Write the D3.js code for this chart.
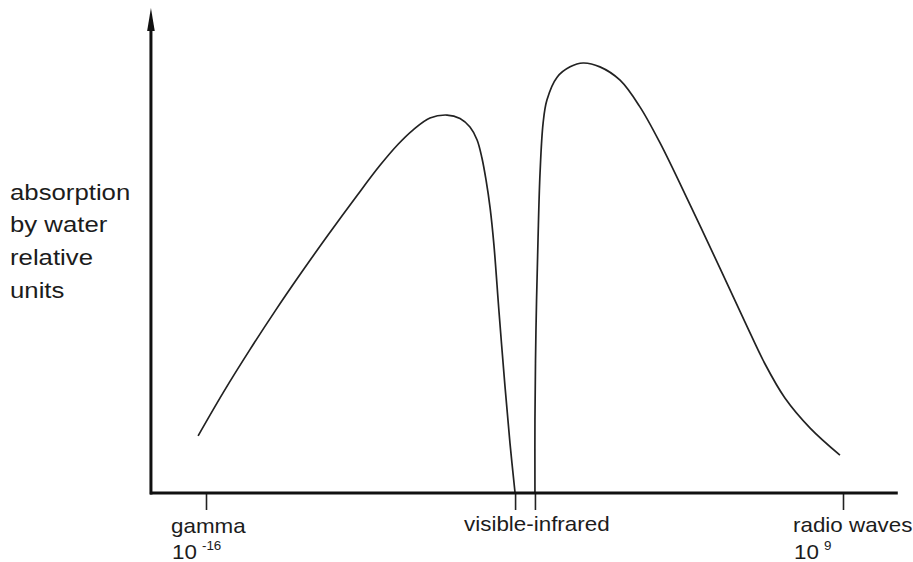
<!DOCTYPE html>
<html>
<head>
<meta charset="utf-8">
<script src="https://cdn.jsdelivr.net/npm/d3@7"></script>
<style>
  html, body { margin: 0; padding: 0; background: #fff; }
  svg { display: block; }
  text { font-family: "Liberation Sans", Arial, Helvetica, sans-serif; fill: #1c1c1c; }
</style>
</head>
<body>
<svg id="chart" width="913" height="562"></svg>
<script>
// x values: exponent position along the spectrum, y values: relative absorption units
const leftBranchX = [-16.31, -15.29, -14.27, -13.29, -12.31, -11.21, -10.07, -9.17, -8.46, -7.88, -7.21, -6.54, -6.03, -5.64, -5.36, -5.17, -5.01, -4.85, -4.70, -4.50, -4.27, -4.07, -3.87];
const leftBranchY = [13.3, 23.7, 33.4, 42.3, 50.8, 60.0, 69.2, 76.2, 81.1, 84.4, 87.2, 87.9, 87.1, 85.1, 82.1, 77.9, 72.8, 66.3, 57.7, 42.1, 25.1, 11.6, 0];
const rightBranchX = [-3.09, -3.09, -3.05, -2.97, -2.89, -2.77, -2.62, -2.22, -1.71, -1.20, -0.54, 0.25, 1.03, 1.82, 3.00, 4.17, 5.15, 5.94, 6.72, 7.71, 8.88];
const rightBranchY = [0, 17.0, 37.9, 58.8, 74.4, 86.0, 91.4, 96.7, 99.1, 100, 99.1, 96.0, 89.8, 81.4, 67.0, 52.3, 39.8, 30.0, 22.1, 15.1, 8.8];

const tickValues = [-16, -3.87, -3.09, 9];
const categoryLabels = ["gamma", "visible-infrared", "radio waves"];
const categoryAt = [-16, -3.87, 9];
const powerBase = ["10", "", "10"];
const powerExp = ["-16", "", "9"];
const yLabelLines = ["absorption", "by water", "relative", "units"];
const xAxisExtent = [-18.2, 11.15];
const yAxisExtent = [0, 112.8];

const svg = d3.select("#chart");
const x = d3.scaleLinear().domain([-16, 9]).range([206, 843]);
const y = d3.scaleLinear().domain([0, 100]).range([493, 63]);
const SX = 1.12; // horizontal text stretch seen in the reference

// curve
const line = d3.line().x(d => x(d[0])).y(d => y(d[1])).curve(d3.curveCatmullRom.alpha(0.5));
const left = leftBranchX.map((v, i) => [v, leftBranchY[i]]);
const right = rightBranchX.map((v, i) => [v, rightBranchY[i]]);
[left, right].forEach(data => {
  svg.append("path").datum(data).attr("d", line)
    .attr("fill", "none").attr("stroke", "#222").attr("stroke-width", 1.7)
    .attr("stroke-linejoin", "round");
});

// ticks via d3 axis
const xAxis = d3.axisBottom(x).tickValues(tickValues).tickSize(17).tickFormat("");
const gx = svg.append("g").attr("transform", `translate(0,${y(0)})`).call(xAxis);
gx.select(".domain").remove();
gx.selectAll(".tick line").attr("stroke", "#222").attr("stroke-width", 1.6);

// axis lines
svg.append("line")
  .attr("x1", x(xAxisExtent[0])).attr("x2", x(xAxisExtent[1]))
  .attr("y1", y(0)).attr("y2", y(0))
  .attr("stroke", "#111").attr("stroke-width", 3);
const yTop = y(yAxisExtent[1]);
svg.append("line")
  .attr("x1", x(xAxisExtent[0]) + 1).attr("x2", x(xAxisExtent[0]) + 1)
  .attr("y1", y(0) + 1.5).attr("y2", yTop + 14)
  .attr("stroke", "#111").attr("stroke-width", 3);
const ax = x(xAxisExtent[0]) + 1;
svg.append("path")
  .attr("d", `M${ax},${yTop} L${ax + 3.8},${yTop + 23} L${ax - 3.8},${yTop + 23} Z`)
  .attr("fill", "#111");

function addText(str, px, py, size) {
  return svg.append("text")
    .attr("transform", `translate(${px},${py}) scale(${SX},1)`)
    .style("font-size", size + "px")
    .text(str);
}

// y label
const yBase = [200, 232, 265, 298];
yLabelLines.forEach((t, i) => addText(t, 10, yBase[i], 23));

// category labels
const labelX = [x(categoryAt[0]) - 35, x(categoryAt[1]) - 51, x(categoryAt[2]) - 50];
const labelY = [533, 531, 532];
categoryLabels.forEach((t, i) => addText(t, labelX[i], labelY[i], 20));
powerBase.forEach((t, i) => {
  if (!t) return;
  const base = addText(t, labelX[i] + 1, 559, 20);
  const w = base.node().getComputedTextLength() * SX;
  addText(powerExp[i], labelX[i] + 1 + w + 5, 550, 12);
});
</script>
</body>
</html>
